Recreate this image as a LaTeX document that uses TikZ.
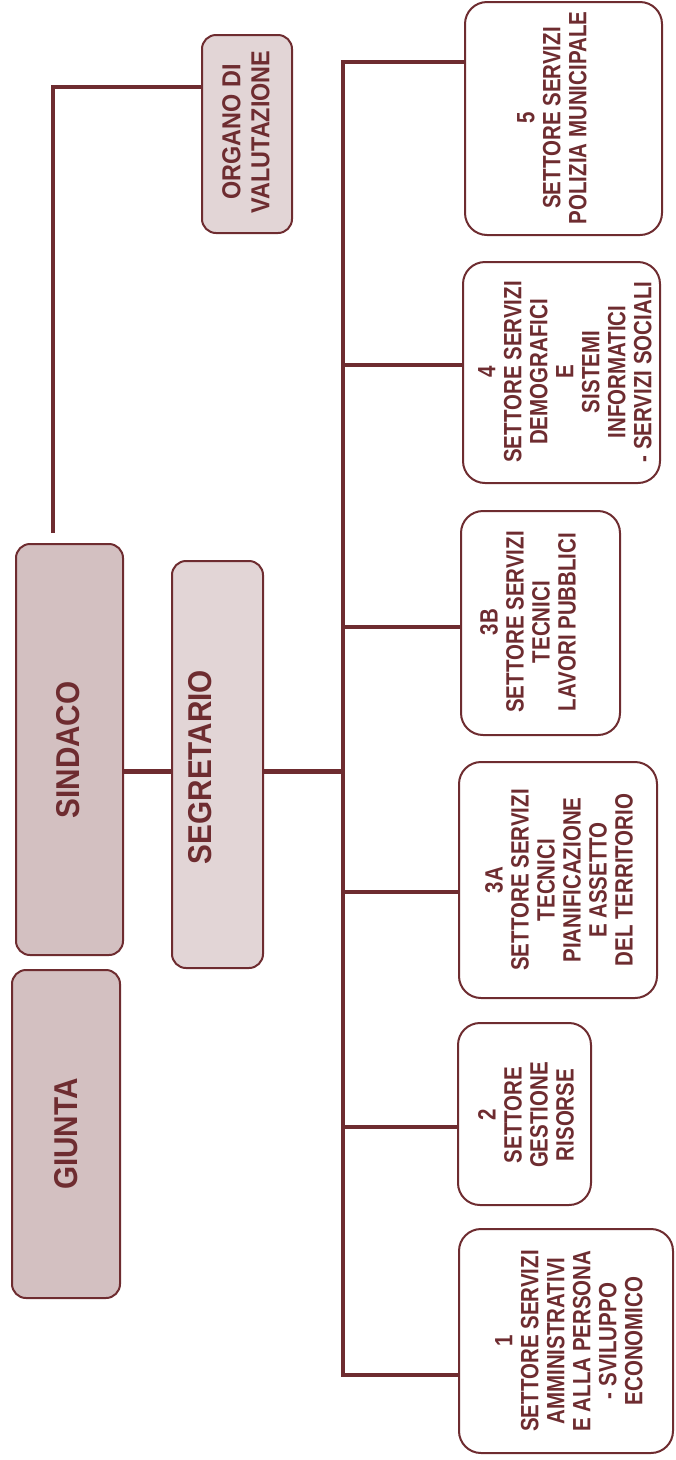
\documentclass[tikz,border=0pt]{standalone}
\usepackage{fontspec}
\setmainfont{Liberation Sans}
\newfontfamily\nar[FakeStretch=0.82]{Liberation Sans}
\newfontfamily\narb[FakeStretch=0.9]{Liberation Sans}
\definecolor{mar}{RGB}{110,44,48}
\begin{document}
\begin{tikzpicture}[x=1pt,y=-1pt,
  conn/.style={draw=mar,line width=4.5pt},
  shbox/.style={draw=mar,line width=2pt,rounded corners=14pt,fill=mar!30,inner sep=0pt},
  ltbox/.style={draw=mar,line width=2pt,rounded corners=14pt,fill=mar!20,inner sep=0pt},
  wbox/.style={draw=mar,line width=2pt,rounded corners=22pt,fill=white,inner sep=0pt},
  lbl/.style={rotate=90,align=center,text=mar,inner sep=0pt,font=\nar\bfseries\fontsize{25}{26}\selectfont},
  biglbl/.style={rotate=90,align=center,text=mar,inner sep=0pt,font=\narb\bfseries\fontsize{33}{36}\selectfont}]
\useasboundingbox (0,0) rectangle (676,1460);

% boxes
\node[ltbox,minimum width=90pt,minimum height=198pt] (org) at (247,134) {};
\node[shbox,minimum width=107pt,minimum height=411pt] (sind) at (69.5,749.5) {};
\node[shbox,minimum width=108pt,minimum height=328pt] (giunta) at (66,1134) {};
\node[ltbox,minimum width=91pt,minimum height=407pt] (segr) at (217.5,764.5) {};
\node[wbox,minimum width=197pt,minimum height=233pt] (b5) at (563.5,118.5) {};
\node[wbox,minimum width=197pt,minimum height=221pt] (b4) at (561.5,372.5) {};
\node[wbox,minimum width=159pt,minimum height=224pt] (b3b) at (540.5,623) {};
\node[wbox,minimum width=198pt,minimum height=236pt] (b3a) at (558,880) {};
\node[wbox,minimum width=133pt,minimum height=182pt] (b2) at (524.5,1114) {};
\node[wbox,minimum width=214pt,minimum height=224pt] (b1) at (566,1341) {};

% labels
\node[lbl,font=\narb\bfseries\fontsize{26}{29}\selectfont] (torg) at (246,132) {ORGANO DI\\VALUTAZIONE};
\node[biglbl] (tsind) at (68,750) {SINDACO};
\node[biglbl] (tgiunta) at (66,1134) {GIUNTA};
\node[biglbl] (tsegr) at (200,767) {SEGRETARIO};
\node[lbl] (t5) at (552,118) {5\\SETTORE SERVIZI\\POLIZIA MUNICIPALE};
\node[lbl] (t4) at (565,372) {4\\SETTORE SERVIZI\\DEMOGRAFICI\\E\\SISTEMI\\INFORMATICI\\- SERVIZI SOCIALI};
\node[lbl] (t3b) at (528,622) {3B\\SETTORE SERVIZI\\TECNICI\\LAVORI PUBBLICI};
\node[lbl] (t3a) at (559,880) {3A\\SETTORE SERVIZI\\TECNICI\\PIANIFICAZIONE\\E ASSETTO\\DEL TERRITORIO};
\node[lbl] (t2) at (526,1115) {2\\SETTORE\\GESTIONE\\RISORSE};
\node[lbl] (t1) at (569,1341) {1\\SETTORE SERVIZI\\AMMINISTRATIVI\\E ALLA PERSONA\\- SVILUPPO\\ECONOMICO};

% connectors
\coordinate (sc) at (53,533);
\draw[conn] (sc) |- ([yshift=47pt]org.west);
\coordinate (sy) at ([yshift=-7pt]segr.west);
\draw[conn] (sy) -- (sy -| sind.east);
\coordinate (bus5) at (343,62);
\coordinate (bus4) at (343,365);
\coordinate (bus3b) at (343,627);
\coordinate (bus3a) at (343,892);
\coordinate (bus2) at (343,1127);
\coordinate (bus1) at (343,1375);
\draw[conn] (sy -| segr.east) -- (sy -| bus5);
\draw[conn] (b5.west |- bus5) -- (bus5) -- (bus1) -- (b1.west |- bus1);
\draw[conn] (bus4) -- (b4.west |- bus4);
\draw[conn] (bus3b) -- (b3b.west |- bus3b);
\draw[conn] (bus3a) -- (b3a.west |- bus3a);
\draw[conn] (bus2) -- (b2.west |- bus2);
\end{tikzpicture}
\end{document}
